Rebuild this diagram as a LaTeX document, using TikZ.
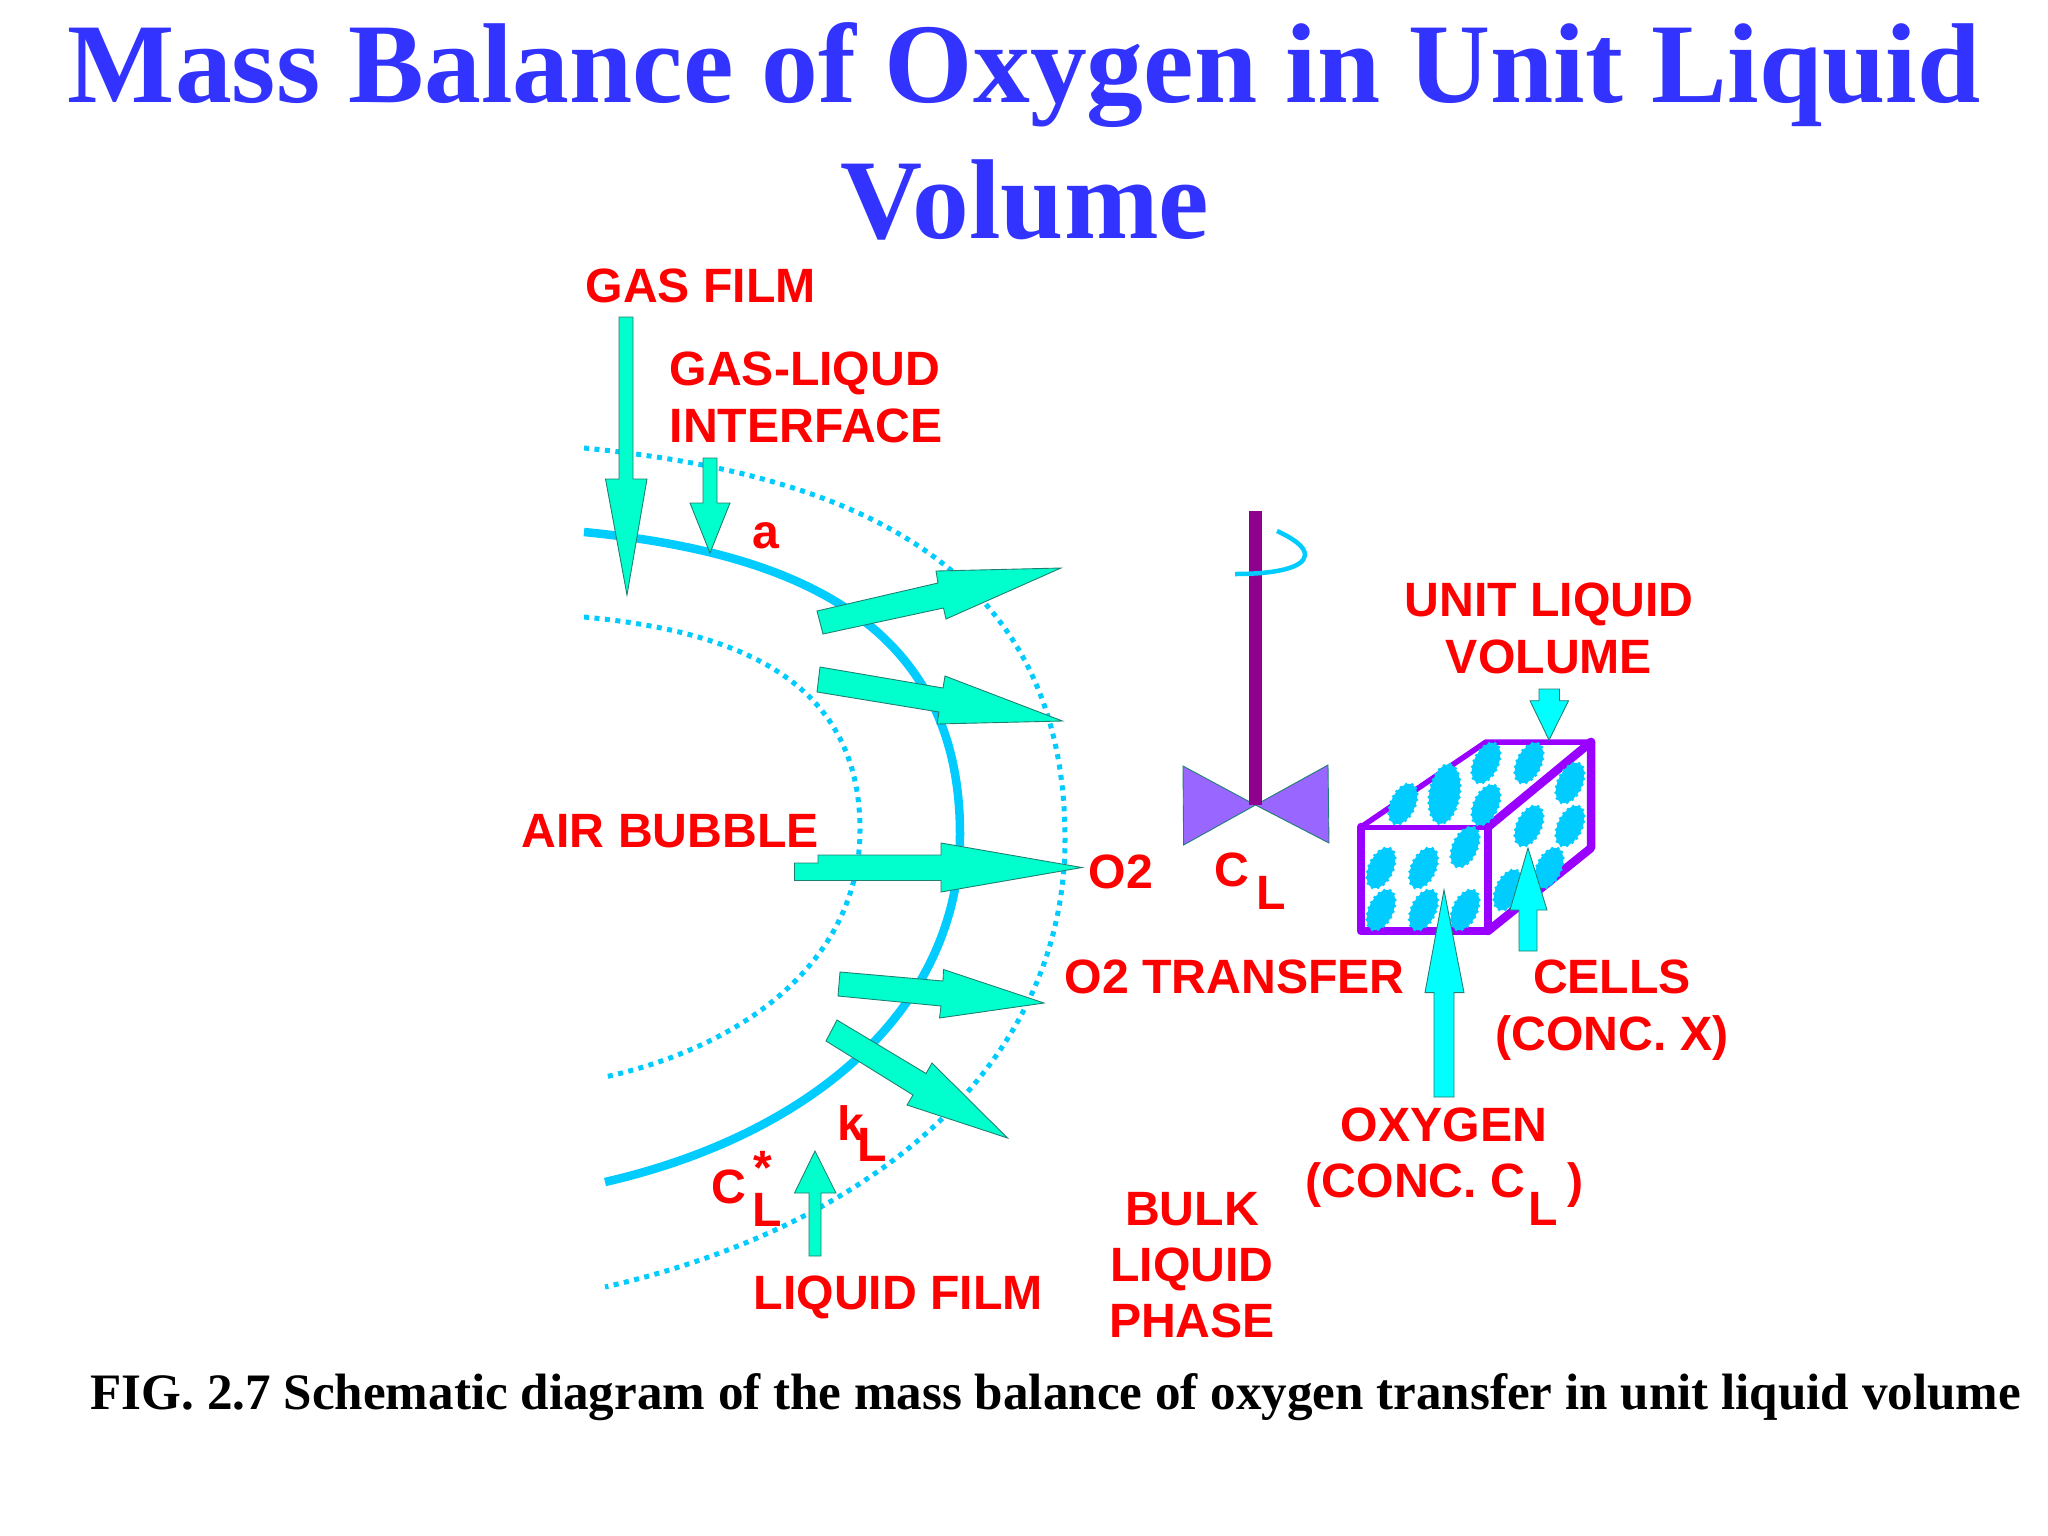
\documentclass[tikz,border=0pt]{standalone}
\usepackage{fontspec}
\setmainfont{Liberation Serif}
\setsansfont{Liberation Sans}
\usetikzlibrary{shapes.geometric}
\definecolor{titleblue}{HTML}{3333FF}
\definecolor{lblred}{HTML}{FF0000}
\definecolor{flowgreen}{HTML}{00FFCC}
\definecolor{flowedge}{HTML}{1F7F70}
\definecolor{aqua}{HTML}{00FFFF}
\definecolor{filmblue}{HTML}{00CCFF}
\definecolor{shaftpurple}{HTML}{8F008F}
\definecolor{bladeviolet}{HTML}{9966FF}
\definecolor{cubeviolet}{HTML}{9900FF}
\tikzset{
  lbl/.style={text=lblred,font=\sffamily\bfseries\fontsize{13.7}{16}\selectfont,inner sep=0pt,anchor=base west},
  lblc/.style={lbl,anchor=base},
  headline/.style={text=titleblue,font=\rmfamily\bfseries\fontsize{32.3}{36}\selectfont,inner sep=0pt,anchor=base},
  flow/.style={fill=flowgreen,draw=flowedge,line width=0.25pt,line join=miter},
  flowaqua/.style={fill=aqua,draw=flowedge,line width=0.25pt},
  film/.style={draw=filmblue,line width=0.085cm},
  filmdots/.style={draw=filmblue,line width=0.05cm,dash pattern=on 0.05cm off 0.055cm},
  cubeedge/.style={draw=cubeviolet,line join=round,line cap=round},
  cellblob/.style={ellipse,fill=filmblue,draw=filmblue,inner sep=0pt,line width=0.035cm,line cap=round,dash pattern=on 0pt off 0.06cm,minimum width=0.43cm,minimum height=0.24cm,rotate=65},
}
\begin{document}
\begin{tikzpicture}[x=0.01cm,y=-0.01cm]
  \useasboundingbox (0,0) rectangle (2048,1536);
  \node[headline] (title1) at (1024,102) {Mass Balance of Oxygen in Unit Liquid};
  \node[headline] (title2) at (1025,238) {Volume};
  %% bubble films
  \draw[filmdots] (584,448) .. controls (848,474) and (1065,562) .. (1065,839) .. controls (1065,1066) and (872,1226) .. (605,1287);
  \draw[filmdots] (584,617) .. controls (735,631) and (860,679) .. (860,830) .. controls (860,955) and (753,1044) .. (605,1077);
  \draw[film] (584,532) .. controls (790,552) and (960,620) .. (960,834) .. controls (960,1010) and (810,1135) .. (605,1182);
  %% arrows on the bubble
  \draw[flow] (619,317) -- (633,317) -- (633,479) -- (647,479) -- (627,595) -- (605.5,479) -- (619,479) -- cycle;
  \draw[flow] (703,458) -- (717,458) -- (717,503) -- (730,503) -- (710,553) -- (690,503) -- (703,503) -- cycle;
  \draw[flow] (817,611) -- (938,583) -- (936,571) -- (1061,568) -- (946,619) -- (943.5,608) -- (823,634) -- cycle;
  \draw[flow] (820,667) -- (943,688) -- (945,676) -- (1062.5,721) -- (937,724) -- (939,712) -- (817,692) -- cycle;
  \draw[flow] (794.5,863) -- (818,863) -- (818,855) -- (941,855) -- (941,843) -- (1082,867.5) -- (941,892) -- (941,880.5) -- (794.5,880.5) -- cycle;
  \draw[flow] (840,972) -- (943,981) -- (943.5,969.5) -- (1044,1003) -- (939.5,1018) -- (941,1006) -- (838,996) -- cycle;
  \draw[flow] (837,1020) -- (926,1073.5) -- (932,1063) -- (1007.5,1138) -- (907,1105) -- (913,1095) -- (826,1041) -- cycle;
  \draw[flow] (809,1256) -- (821,1256) -- (821,1193) -- (836,1193) -- (815,1151) -- (794.5,1193) -- (809,1193) -- cycle;
  %% impeller
  \draw[fill=bladeviolet,draw=flowedge,line width=0.25pt] (1255.5,805) -- (1183,766) -- (1183.6,845) -- cycle;
  \draw[fill=bladeviolet,draw=flowedge,line width=0.25pt] (1255.5,805) -- (1328,765) -- (1329,843) -- cycle;
  \fill[shaftpurple] (1249,511) rectangle (1262,805);
  \draw[draw=filmblue,line width=0.045cm] (1235,574) .. controls (1275,574) and (1304,568) .. (1305,555) .. controls (1305,546) and (1292,538) .. (1277,531);
  %% unit volume
  \draw[cubeedge,line width=0.055cm] (1361,827) -- (1486,742) -- (1591,742);
  \draw[cubeedge,line width=0.085cm] (1591,742) -- (1591,848) -- (1488,931);
  \draw[cubeedge,line width=0.085cm] (1488,827) -- (1591,742);
  \draw[cubeedge,line width=0.05cm] (1361,827) -- (1488,827);
  \draw[cubeedge,line width=0.085cm] (1361,827) -- (1361,931) -- (1488,931) -- (1488,827);
  \foreach \cx/\cy [count=\i] in {1403/804,1486/763,1529/763,1486/805,1465/847,1381/868,1423.5/868,1381/910,1423.5/910,1465/910,1570/783,1529/826,1570/826,1549/868,1508/890}
    \node[cellblob] (cell\i) at (\cx,\cy) {};
  \node[cellblob,minimum width=0.6cm,minimum height=0.3cm,rotate=15] (celllarge) at (1444.5,794) {};
  \draw[flowaqua] (1539,689) -- (1559.5,689) -- (1559.5,700.7) -- (1568.6,700.7) -- (1549,740) -- (1530,700.7) -- (1539,700.7) -- cycle;
  \draw[flowaqua] (1519,951) -- (1537,951) -- (1537,910) -- (1547,910) -- (1528,848) -- (1510,910) -- (1519,910) -- cycle;
  \draw[flowaqua] (1434,1097) -- (1454,1097) -- (1454,992.6) -- (1464,992.6) -- (1444,890) -- (1425,992.6) -- (1434,992.6) -- cycle;
  %% labels
  \node[lbl] (gasfilm) at (585,302) {GAS FILM};
  \node[lbl] (gasliq) at (669,385) {GAS-LIQUD};
  \node[lbl] (iface) at (669,442) {INTERFACE};
  \node[lbl] (area) at (752,548) {a};
  \node[lbl] (airbub) at (521,847) {AIR BUBBLE};
  \node[lbl] (otwo) at (1088,888) {O2};
  \node[lbl] (cbulk) at (1214,886) {C};
  \node[lbl] (cbulksub) at (1256,909) {L};
  \node[lblc] (unitliq) at (1549,616) {UNIT LIQUID};
  \node[lblc] (unitvol) at (1549,673) {VOLUME};
  \node[lbl] (otrans) at (1064,993) {O2 TRANSFER};
  \node[lblc] (cells) at (1612,993) {CELLS};
  \node[lblc] (concx) at (1612,1050) {(CONC. X)};
  \node[lblc] (oxy) at (1444,1141) {OXYGEN};
  \node[lbl] (concc) at (1305,1197) {(CONC. C};
  \node[lbl] (conccsub) at (1528,1225) {L};
  \node[lbl] (conccend) at (1567,1197) {)};
  \node[lbl] (kl) at (837,1140) {k};
  \node[lbl] (klsub) at (857,1161) {L};
  \node[lbl] (cstar) at (711,1203) {C};
  \node[lbl] (cstarup) at (753,1184) {*};
  \node[lbl] (cstarsub) at (752,1226) {L};
  \node[lbl] (liqfilm) at (753,1309) {LIQUID FILM};
  \node[lblc] (bulk1) at (1192,1225) {BULK};
  \node[lblc] (bulk2) at (1192,1281) {LIQUID};
  \node[lblc] (bulk3) at (1192,1337) {PHASE};
  \node[inner sep=0pt,anchor=base west,font=\rmfamily\bfseries\fontsize{14.53}{16}\selectfont] (caption) at (90,1409) {FIG. 2.7 Schematic diagram of the mass balance of oxygen transfer in unit liquid volume};
\end{tikzpicture}
\end{document}
